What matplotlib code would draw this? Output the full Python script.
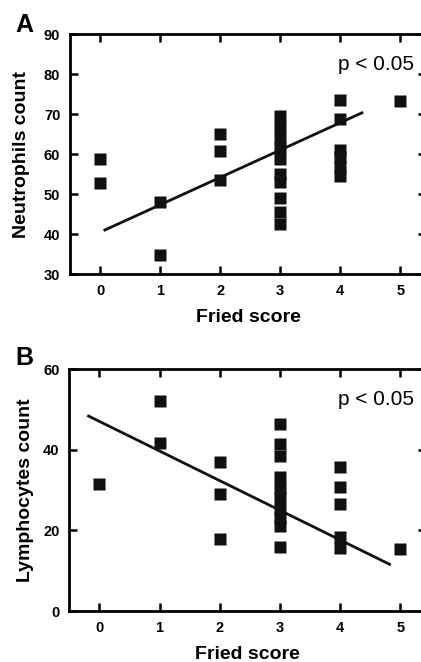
import numpy as np
import matplotlib
matplotlib.use("Agg")
import matplotlib.pyplot as plt

plt.rcParams['font.family'] = ['Liberation Sans', 'DejaVu Sans']

# Panel A: neutrophils vs Fried score
neu_x = [0, 0, 1, 1, 2, 2, 2,
         3, 3, 3, 3, 3, 3, 3, 3, 3, 3,
         4, 4, 4, 4, 4, 4, 5]
neu_y = [58.8, 52.7, 47.9, 34.8, 65.0, 60.8, 53.5,
         69.4, 66.8, 64.1, 61.4, 58.8, 55.1, 52.9, 48.9, 45.6, 42.6,
         73.6, 68.7, 60.9, 59.2, 56.8, 54.4, 73.3]
neu_fit_x = [0.08, 4.36]
neu_fit_y = [41.0, 70.3]

# Panel B: lymphocytes vs Fried score
lym_x = [0, 1, 1, 2, 2, 2,
         3, 3, 3, 3, 3, 3, 3, 3, 3, 3,
         4, 4, 4, 4, 4, 5]
lym_y = [31.5, 52.1, 41.6, 37.1, 29.0, 17.8,
         46.4, 41.4, 38.4, 33.2, 30.6, 28.0, 25.4, 23.2, 21.1, 16.0,
         35.8, 30.7, 26.6, 18.3, 15.6, 15.4]
lym_fit_x = [-0.18, 4.82]
lym_fit_y = [48.4, 11.6]

fried_ticks = [0, 1, 2, 3, 4, 5]

fig = plt.figure(figsize=(4.21, 6.62), dpi=100)
axA = fig.add_axes([0.1663, 0.5861, 0.846, 0.3625])
axB = fig.add_axes([0.1646, 0.0770, 0.848, 0.3651])


def style(ax, yticks, ylabel, ylab_x):
    ax.set_xlim(-0.5, 5.43)
    ax.set_xticks(fried_ticks)
    ax.set_yticks(yticks)
    ax.set_ylim(yticks[0], yticks[-1])
    for s in ax.spines.values():
        s.set_linewidth(2.0)
    ax.tick_params(direction='in', length=6, width=1.8, top=True, right=True,
                   labelsize=10.5, pad=7)
    for lab in ax.get_xticklabels() + ax.get_yticklabels():
        lab.set_fontweight('bold')
    ax.set_xlabel('Fried score', fontsize=14, fontweight='bold', labelpad=8)
    ax.set_ylabel(ylabel, fontsize=14, fontweight='bold', va='center')
    ax.yaxis.set_label_coords(ylab_x, 0.5)
    ax.text(0.965, 0.875, 'p < 0.05', transform=ax.transAxes, fontsize=15,
            ha='right', va='center')


axA.plot(neu_x, neu_y, 's', color='#111111', ms=9, mec='none')
axA.plot(neu_fit_x, neu_fit_y, '-', color='#111111', lw=2.0)
style(axA, [30, 40, 50, 60, 70, 80, 90], 'Neutrophils count', -0.137)

axB.plot(lym_x, lym_y, 's', color='#111111', ms=9, mec='none')
axB.plot(lym_fit_x, lym_fit_y, '-', color='#111111', lw=2.0)
style(axB, [0, 20, 40, 60], 'Lymphocytes count', -0.124)

fig.text(15 / 421, 1 - 25 / 662, 'A', fontsize=18, fontweight='bold', va='center')
fig.text(15 / 421, 1 - 358 / 662, 'B', fontsize=18, fontweight='bold', va='center')

fig.savefig('out.png', dpi=100)
